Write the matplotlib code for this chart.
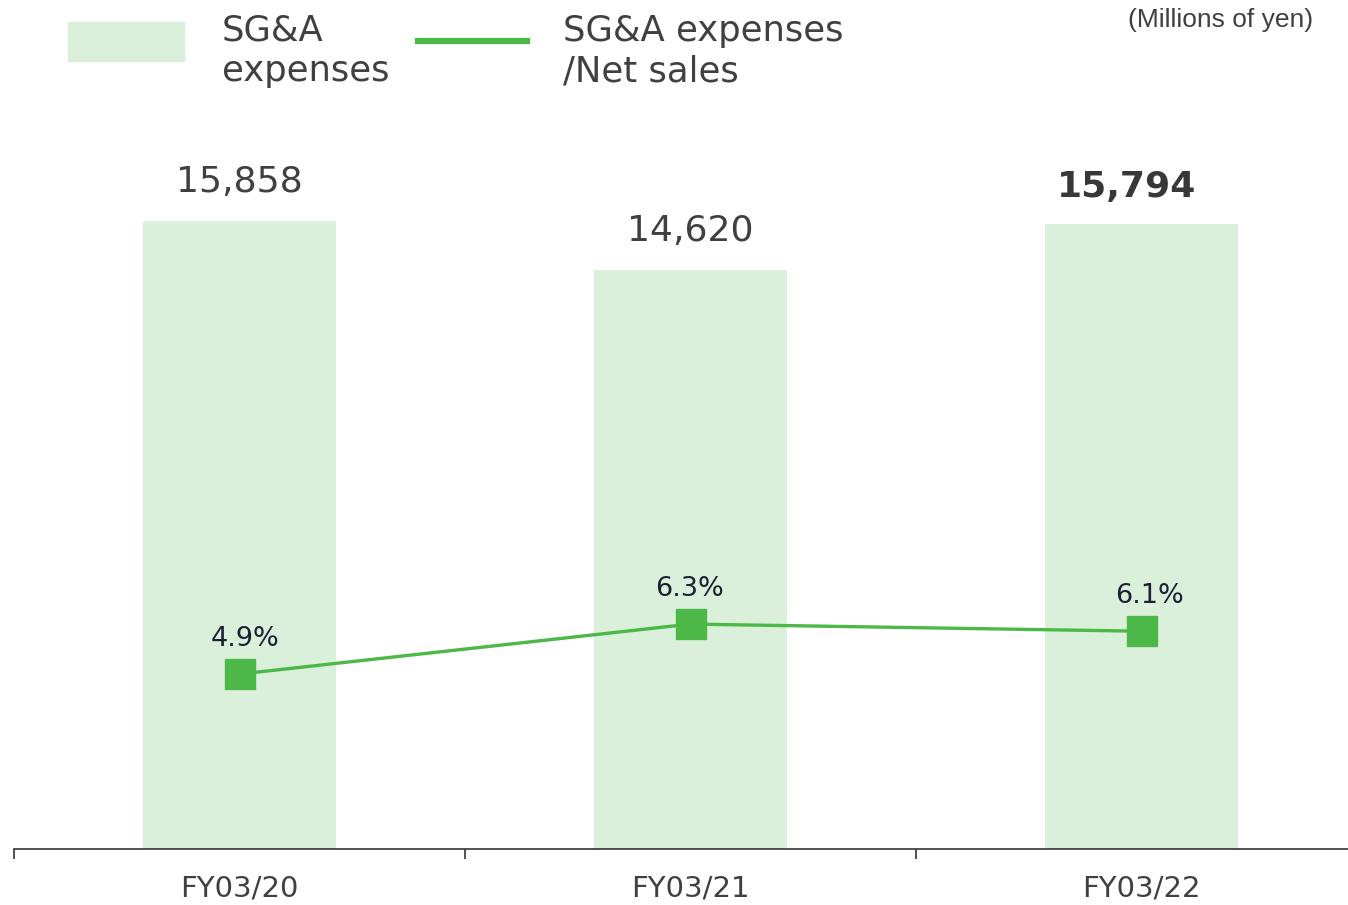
import matplotlib.pyplot as plt
import matplotlib.patches as mpatches
from matplotlib.lines import Line2D

# data
years = ["FY03/20", "FY03/21", "FY03/22"]
sga = [15858, 14620, 15794]
ratio = [4.9, 6.3, 6.1]

bar_color = "#daf0da"
line_color = "#4cb847"
text_gray = "#404040"

fig = plt.figure(figsize=(13.48, 9.05), dpi=100)
# axes: bottom at y=849px, top at y=100px, left at x=14px
ax = fig.add_axes([14 / 1348, 1 - 849 / 905, 1 - 14 / 1348, 749 / 905])
x = list(range(len(years)))

ax.bar(x, sga, width=0.43, color=bar_color, zorder=1)
ax.set_xlim(-0.5, -0.5 + (1348 - 14) / 451)
ax.set_ylim(0, 749 / 0.0396)

for i, v in enumerate(sga):
    bold = i == len(sga) - 1
    ax.annotate(f"{v:,}", (i, v), xytext=(0 if not bold else -11, 16 if not bold else 14),
                textcoords="offset points", ha="center", va="bottom",
                fontsize=26, color=text_gray if not bold else "#383838",
                fontweight="bold" if bold else "normal")

ax2 = ax.twinx()
ax2.set_ylim(0, 749 / 35.7)
ax2.plot(x, ratio, color=line_color, lw=2.4, marker="s", markersize=21,
         zorder=3)
dx = [4, -1, 6]
for i, v in enumerate(ratio):
    ax2.annotate(f"{v}%", (i, v), xytext=(dx[i], 16), textcoords="offset points",
                 ha="center", va="bottom", fontsize=19.5, color="#1c2033")

for a in (ax, ax2):
    for s in ["top", "right", "left"]:
        a.spines[s].set_visible(False)
    a.set_yticks([])
ax2.spines["bottom"].set_visible(False)
ax.spines["bottom"].set_color("#333333")
ax.spines["bottom"].set_linewidth(1.2)

ax.set_xticks(x)
ax.set_xticklabels(years, fontsize=21, color=text_gray)
ax.tick_params(axis="x", which="major", length=0, pad=18)
ax.set_xticks([-0.5, 0.5, 1.5], minor=True)
ax.tick_params(axis="x", which="minor", length=7, width=1.2, color="#333333")

# legend drawn by hand at the top
fig.patches.append(mpatches.Rectangle((68 / 1348, 1 - 61 / 905), 116 / 1348, 39 / 905,
                                      transform=fig.transFigure, color=bar_color))
fig.lines.append(Line2D([418 / 1348, 527 / 1348], [1 - 41 / 905, 1 - 41 / 905],
                        transform=fig.transFigure, color=line_color, lw=4.5))
fig.text(222 / 1348, 1 - 51 / 905, "SG&A\nexpenses", fontsize=25.5, color=text_gray,
         va="center", ha="left", linespacing=1.25)
fig.text(563 / 1348, 1 - 51 / 905, "SG&A expenses\n/Net sales", fontsize=25.5,
         color=text_gray, va="center", ha="left", linespacing=1.25)
fig.text(1313 / 1348, 1 - 20 / 905, "(Millions of yen)", fontsize=19,
         family="Liberation Sans", color=text_gray, va="center", ha="right")

fig.savefig("out.png", dpi=100)
